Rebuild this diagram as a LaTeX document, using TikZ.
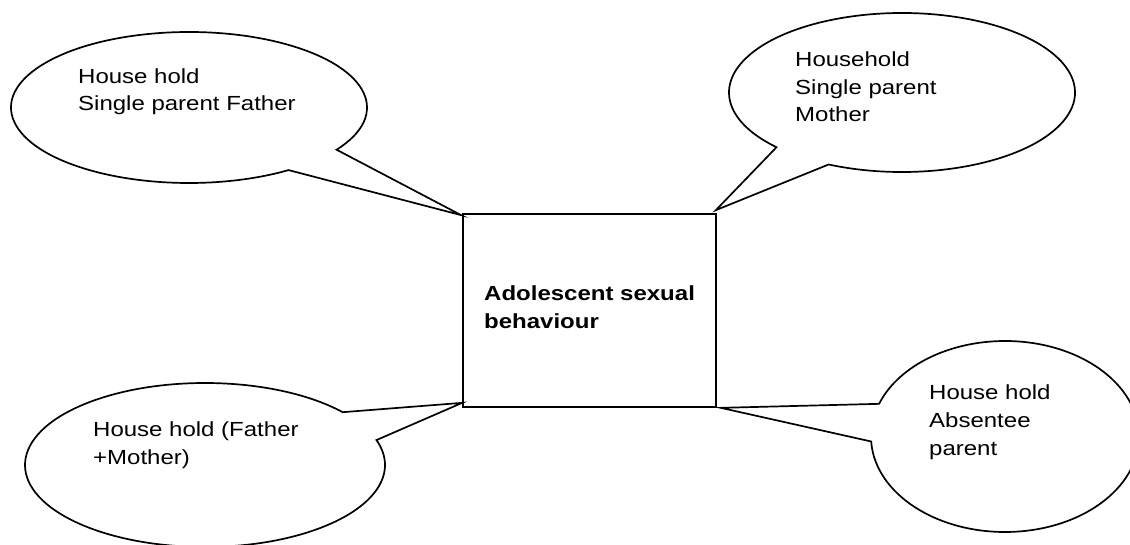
\documentclass[tikz,border=0pt]{standalone}
\usepackage{fontspec}
\setmainfont{Liberation Sans}
\usepackage{graphicx}
\usetikzlibrary{calc}
\newcommand\callouttext[1]{\scalebox{1}[0.85]{\begin{tabular}[t]{@{}l@{}}#1\end{tabular}}}
\begin{document}
\begin{tikzpicture}[x=1pt,y=1pt,
  outline/.style={draw=black, line width=1.7pt, line join=miter},
  lbl/.style={inner sep=0pt, anchor=base west, font=\fontsize{24}{32.5}\selectfont},
  boxlbl/.style={lbl, font=\fontsize{24}{32.5}\selectfont\bfseries}]
\path[use as bounding box, clip] (0,0) rectangle (1130,544);

% central box
\node[outline, minimum width=253pt, minimum height=193pt, inner sep=0pt] (box) at (589.5,233.5) {};
\node[boxlbl] (boxtext) at (484,243) {\callouttext{Adolescent sexual\\behaviour}};

% callout centres
\coordinate (e1) at (189,436.5);
\coordinate (e2) at (902,451.5);
\coordinate (e3) at (205,79);
\coordinate (e4) at (1005,107.5);

% callout outlines
\draw[outline] ($(e1)+(-34:178pt and 75.5pt)$)
  arc[start angle=-34, end angle=304, x radius=178pt, y radius=75.5pt]
  -- ($(box.north west)+(-1,-2)$) -- cycle;
\draw[outline] ($(e2)+(-115.1:173pt and 79.5pt)$)
  arc[start angle=-115.1, end angle=223.5, x radius=173pt, y radius=79.5pt]
  -- ($(box.north east)+(-1,3)$) -- cycle;
\draw[outline] ($(e3)+(40.1:180pt and 82pt)$)
  arc[start angle=40.1, end angle=377.7, x radius=180pt, y radius=82pt]
  -- ($(box.south west)+(0,5)$) -- cycle;
\draw[outline] ($(e4)+(183:134pt and 95.5pt)$)
  arc[start angle=183, end angle=520, x radius=134pt, y radius=95.5pt]
  -- ($(box.south east)+(4,0)$) -- cycle;

% callout texts
\node[lbl] (t1) at (78,460.7) {\callouttext{House hold\\Single parent Father}};
\node[lbl] (t2) at (795,477.3) {\callouttext{Household\\Single parent\\Mother}};
\node[lbl] (t3) at (93,107) {\callouttext{House hold (Father\\+Mother)}};
\node[lbl] (t4) at (929,144) {\callouttext{House hold\\Absentee\\parent}};
\end{tikzpicture}
\end{document}
